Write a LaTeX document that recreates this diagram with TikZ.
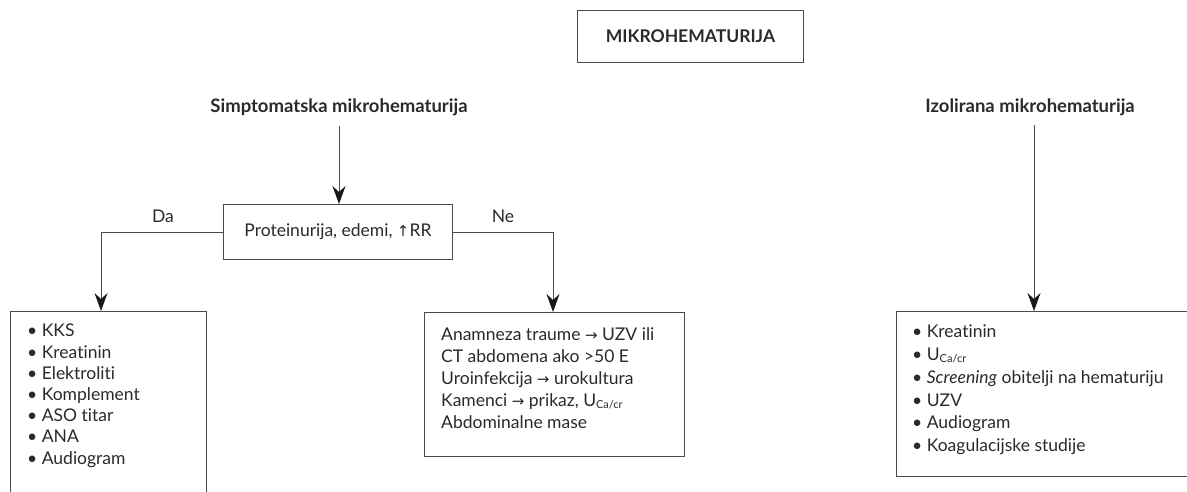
\documentclass[tikz,border=0pt]{standalone}
\usepackage{fontspec}
\setmainfont{Lato}[Ligatures={NoCommon}]
\newfontfamily\arrowfont{DejaVu Sans}
\usetikzlibrary{arrows.meta}
\definecolor{txt}{HTML}{2A2A2A}
\definecolor{ln}{HTML}{4A4A4A}
\newcommand{\ar}[1]{{\arrowfont\fontsize{15}{15}\selectfont #1}}
\newcommand{\ucacr}{U\raisebox{-0.25ex}{\fontsize{11}{11}\selectfont Ca/cr}}
\begin{document}
\begin{tikzpicture}[x=1pt,y=-1pt,
  every node/.style={text=txt},
  body/.style={font=\fontsize{17.5}{21.2}\selectfont, inner sep=0pt},
  head/.style={font=\bfseries\fontsize{18.5}{20}\selectfont, inner sep=0pt},
  boxline/.style={draw=ln, line width=0.9pt},
  conn/.style={draw=ln, line width=0.9pt, -{Stealth[length=18pt,width=13pt,inset=6pt,color=black!90]}},
  plain/.style={draw=ln, line width=0.9pt}
]
\useasboundingbox (0,0) rectangle (1187,491);
\clip (0,0) rectangle (1187,491);

% top box
\node[boxline, minimum width=226pt, minimum height=52pt, inner sep=0pt, anchor=north west,
      font=\bfseries\fontsize{17.5}{19}\selectfont] (top) at (577,10) {MIKROHEMATURIJA};

% headings
\node[head] (simp) at (339,107) {Simptomatska mikrohematurija};
\node[head] (izol) at (1030,107) {Izolirana mikrohematurija};

% decision box
\node[boxline, minimum width=229pt, minimum height=55pt, inner sep=0pt, anchor=north west, body] (prot) at (223,204) {Proteinurija, edemi, \ar{↑}RR};

% left open box
\node[minimum width=196pt, minimum height=200pt, inner sep=0pt, anchor=north west] (lbox) at (10,311) {};
\draw[boxline] (lbox.south west) -- (lbox.north west) -- (lbox.north east) -- (lbox.south east);
\node[body, anchor=north west, align=left] (ltext) at (27,324) {•\ KKS\\•\ Kreatinin\\•\ Elektroliti\\•\ Komplement\\•\ ASO titar\\•\ ANA\\•\ Audiogram};

% middle box
\node[boxline, minimum width=260pt, minimum height=144pt, inner sep=0pt, anchor=north west] (mbox) at (424,312) {};
\node[body, anchor=north west, align=left, font=\fontsize{17.5}{22.2}\selectfont] (mtext) at (441,327) {Anamneza traume \ar{→} UZV ili\\CT abdomena ako >50 E\\Uroinfekcija \ar{→} urokultura\\Kamenci \ar{→} prikaz, \ucacr\\Abdominalne mase};

% right box (extends past right edge)
\node[boxline, minimum width=320pt, minimum height=165pt, inner sep=0pt, anchor=north west] (rbox) at (896,311) {};
\node[body, anchor=north west, align=left, font=\fontsize{17.5}{22.7}\selectfont] (rtext) at (912,325) {•\ Kreatinin\\•\ \ucacr\\•\ \textit{Screening} obitelji na hematuriju\\•\ UZV\\•\ Audiogram\\•\ Koagulacijske studije};

% connectors
\coordinate (s0) at (339,126);
\draw[conn] (s0) -- (prot.north -| s0);
\coordinate (i0) at (1034,125);
\draw[conn] (i0) -- (rbox.north -| i0);
\coordinate (dl) at (101,232);
\coordinate (dr) at (553,232);
\draw[conn] (prot.west |- dl) -- (dl) -- (lbox.north -| dl);
\draw[conn] (prot.east |- dr) -- (dr) -- (mbox.north -| dr);

\node[body] (da) at (163,216) {Da};
\node[body] (ne) at (503,216) {Ne};
\end{tikzpicture}
\end{document}
